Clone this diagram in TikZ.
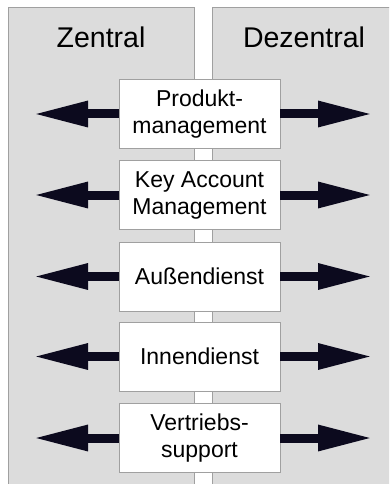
\documentclass[tikz,border=0pt]{standalone}
\usepackage{fontspec}
\setmainfont{Liberation Sans}
\usetikzlibrary{arrows.meta}

\definecolor{panelgray}{HTML}{DCDCDC}
\definecolor{linegray}{HTML}{A0A0A0}
\definecolor{arrowdark}{HTML}{0C0A1E}

\tikzset{
  panel/.style={fill=panelgray, draw=linegray, line width=0.8pt},
  rolebox/.style={draw=linegray, fill=white, line width=0.8pt,
    minimum width=161pt, minimum height=69pt, align=center,
    font=\fontsize{23}{27}\selectfont, inner sep=0pt},
  title/.style={anchor=base, font=\fontsize{28.5}{31}\selectfont},
  bigarrow/.style={draw=arrowdark, line width=9pt,
    -{Triangle[length=55pt, width=24pt]}}
}

\begin{document}
\begin{tikzpicture}[x=1pt, y=-1pt]
        % Page frame
        \useasboundingbox (0,0) rectangle (389,484);
        \clip (0,0) rectangle (389,484);

        % Two organisation columns
        \draw[panel] (8,7) rectangle (194,495);
        \draw[panel] (212,7) rectangle (400,495);
        \node[title] (zentral) at (101,48) {Zentral};
        \node[title] (dezentral) at (304,48) {Dezentral};

        % Sales functions
        \node[rolebox] (prod) at (199.5,114) {Produkt-\\management};
        \node[rolebox] (kam) at (199.5,195) {Key Account\\Management};
        \node[rolebox] (ad) at (199.5,276.5) {Außendienst};
        \node[rolebox] (id) at (199.5,356.5) {Innendienst};
        \node[rolebox] (vs) at (199.5,438) {Vertriebs-\\support};

        % Arrows to both sides
        \foreach \b in {prod,kam,ad,id,vs} {
          \coordinate (\b-l) at (33,0 |- \b.center);
          \coordinate (\b-r) at (373,0 |- \b.center);
          \draw[bigarrow] (\b.west) -- (\b-l);
          \draw[bigarrow] (\b.east) -- (\b-r);
        }

\end{tikzpicture}
\end{document}
